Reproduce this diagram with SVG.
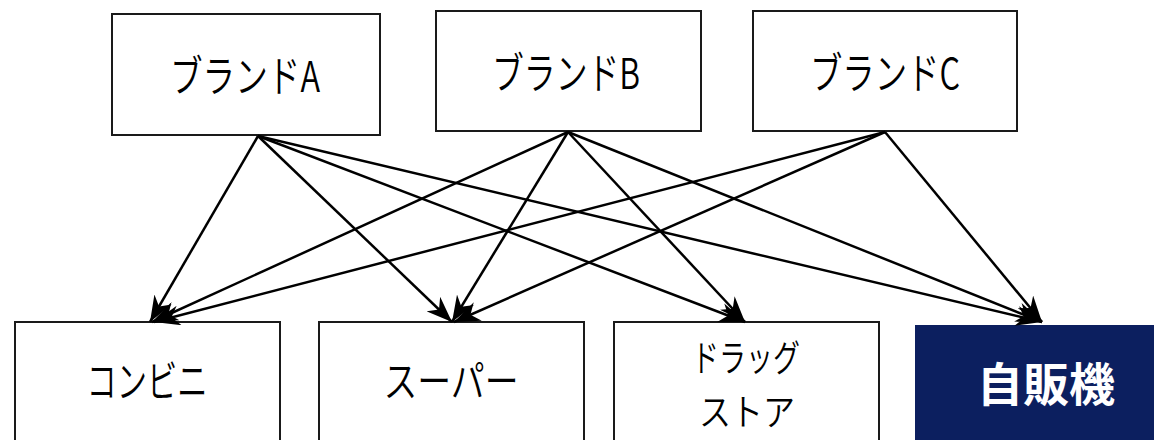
<svg xmlns="http://www.w3.org/2000/svg" width="1154" height="440" viewBox="0 0 1154 440">
<style>
.box{fill:#fff;stroke:#1a1a1a;stroke-width:2}
.lbl{font-family:"Noto Sans CJK JP","Noto Sans",sans-serif;font-size:43px;font-weight:350;fill:#000;text-anchor:middle}
.sm{font-size:37px}
.wl{font-family:"Noto Sans CJK JP","Noto Sans",sans-serif;font-size:46px;font-weight:bold;fill:#fff;text-anchor:middle}
.cn line{stroke:#000;stroke-width:2.5;marker-end:url(#ah)}
</style>
<defs>
<marker id="ah" viewBox="0 0 26 20" refX="26" refY="10" markerWidth="26" markerHeight="20" markerUnits="userSpaceOnUse" orient="auto">
<path d="M0,0 L26,10 L0,20 L8,10 Z" fill="#000"/>
</marker>
</defs>
<rect width="1154" height="440" fill="#fff"/>
<g id="brandA"><rect class="box" x="112" y="14" width="268" height="121"/><text class="lbl" x="245" y="92" textLength="150" lengthAdjust="spacingAndGlyphs">ブランドA</text></g>
<g id="brandB"><rect class="box" x="436" y="11" width="265" height="120"/><text class="lbl" x="566" y="89" textLength="148" lengthAdjust="spacingAndGlyphs">ブランドB</text></g>
<g id="brandC"><rect class="box" x="753" y="11" width="264" height="120"/><text class="lbl" x="885" y="89" textLength="150" lengthAdjust="spacingAndGlyphs">ブランドC</text></g>
<g id="conbini"><rect class="box" x="15" y="322" width="265" height="130"/><text class="lbl" x="147" y="397" textLength="121" lengthAdjust="spacingAndGlyphs">コンビニ</text></g>
<g id="super"><rect class="box" x="319" y="322" width="265" height="130"/><text class="lbl" x="451" y="397" textLength="135" lengthAdjust="spacingAndGlyphs">スーパー</text></g>
<g id="drugstore"><rect class="box" x="614" y="322" width="265" height="130"/><text class="lbl sm"><tspan x="746" y="372" textLength="108" lengthAdjust="spacingAndGlyphs">ドラッグ</tspan><tspan x="747" y="426" textLength="96" lengthAdjust="spacingAndGlyphs">ストア</tspan></text></g>
<g id="vending"><rect x="915" y="325" width="245" height="125" fill="#0c1f5f"/><text class="wl" x="1046" y="401">自販機</text></g>
<g id="connectors" class="cn">
<line x1="258" y1="136" x2="150" y2="322"/>
<line x1="258" y1="136" x2="452" y2="322"/>
<line x1="258" y1="136" x2="745" y2="322"/>
<line x1="258" y1="136" x2="1042" y2="322"/>
<line x1="568" y1="132" x2="152" y2="322"/>
<line x1="568" y1="132" x2="452" y2="322"/>
<line x1="568" y1="132" x2="745" y2="322"/>
<line x1="568" y1="132" x2="1042" y2="322"/>
<line x1="885" y1="132" x2="154" y2="322"/>
<line x1="885" y1="132" x2="454" y2="322"/>
<line x1="885" y1="132" x2="1042" y2="322"/>
</g>
</svg>
